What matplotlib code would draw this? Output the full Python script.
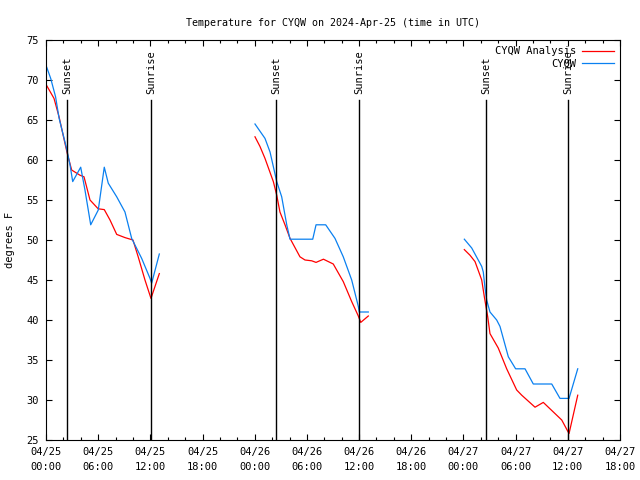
import numpy as np
import pandas as pd
import matplotlib
matplotlib.use("Agg")
import matplotlib.pyplot as plt
import matplotlib.dates as mdates
from matplotlib.ticker import MultipleLocator

START = pd.Timestamp("2024-04-25 00:00")

# hours after 2024-04-25 00:00 UTC; NaN separates the three nights
analysis_hours = [
    0.08, 0.92, 1.5, 2.26, 2.45, 2.95, 3.9, 4.37, 5.06, 6.0, 6.7, 7.36, 8.13,
    9.08, 10.0, 10.6, 11.38, 12.07, 13.03, np.nan,
    24.03, 24.6, 25.18, 26.14, 26.53, 26.9, 27.48, 28.06, 29.2, 29.78, 30.55,
    31.05, 31.9, 33.03, 34.18, 35.15, 35.91, 36.19, 37.06, np.nan,
    48.1, 48.75, 49.33, 50.1, 50.4, 50.79, 51.05, 52.0, 52.97, 54.12, 54.7,
    56.23, 57.18, 58.53, 59.3, 60.14, 61.14,
]
analysis_temp = [
    69.3, 67.7, 65.4, 61.7, 60.8, 58.75, 58.1, 57.9, 55.0, 53.9, 53.8, 52.5, 50.7,
    50.3, 50.0, 47.9, 45.0, 42.7, 45.8, np.nan,
    62.9, 61.7, 60.2, 57.3, 55.6, 53.5, 51.9, 50.2, 47.9, 47.5, 47.4,
    47.2, 47.6, 47.0, 44.8, 42.3, 40.5, 39.7, 40.5, np.nan,
    48.8, 48.1, 47.3, 45.0, 42.9, 40.4, 38.3, 36.5, 33.9, 31.25, 30.6,
    29.1, 29.7, 28.3, 27.5, 25.8, 30.6,
]

obs_hours = [
    0.08, 0.54, 1.1, 1.5, 2.26, 2.45, 2.76, 3.07, 3.99, 4.48, 5.14, 6.01, 6.7,
    7.16, 8.13, 9.08, 9.85, 11.0, 11.96, 12.15, 13.03, np.nan,
    24.03, 25.18, 25.76, 26.53, 27.1, 27.68, 28.06, 30.67, 31.05, 32.16, 33.23,
    34.18, 35.15, 35.91, 36.02, 37.06, np.nan,
    48.1, 48.95, 50.1, 50.28, 50.48, 50.67, 51.05, 51.82, 52.2, 53.16, 54.0,
    55.08, 56.03, 58.15, 59.1, 60.14, 61.14,
]
obs_temp = [
    71.6, 70.2, 67.9, 65.25, 61.9, 61.0, 59.4, 57.3, 59.1, 56.25, 51.9, 53.75, 59.1,
    57.1, 55.4, 53.5, 50.2, 47.7, 45.2, 44.6, 48.25, np.nan,
    64.5, 62.7, 61.0, 57.3, 55.4, 51.9, 50.1, 50.1, 51.9, 51.9, 50.2,
    47.9, 45.0, 41.7, 41.0, 41.0, np.nan,
    50.1, 49.0, 46.7, 46.0, 44.0, 42.5, 41.0, 40.0, 39.2, 35.4, 33.9,
    33.9, 32.0, 32.0, 30.2, 30.2, 33.9,
]

sunset_hours = [2.42, 26.45, 50.6]
sunrise_hours = [12.05, 36.0, 60.0]


def to_time(hours):
    return START + pd.to_timedelta(np.asarray(hours, dtype=float), unit="h")


plt.rcParams["font.family"] = "DejaVu Sans Mono"
plt.rcParams["font.size"] = 7.5

fig = plt.figure(figsize=(6.4, 4.8), dpi=100)
ax = fig.add_axes([46 / 640, 1 - 440 / 480, 574 / 640, 400 / 480])

ax.plot(to_time(analysis_hours), analysis_temp, color="#ff0000", lw=0.9,
        label="CYQW Analysis")
ax.plot(to_time(obs_hours), obs_temp, color="#0a80f0", lw=0.9, label="CYQW")

for label, hours in (("Sunset", sunset_hours), ("Sunrise", sunrise_hours)):
    for t in to_time(hours):
        ax.plot([t, t], [25, 67.5], color="black", lw=1.0)
        ax.text(t, 68.3, label, rotation=90, ha="center", va="bottom",
                fontsize=7.5)

ax.set_xlim(to_time([0])[0], to_time([66])[0])
ax.set_ylim(25, 75)
ax.yaxis.set_major_locator(MultipleLocator(5))
ax.xaxis.set_major_locator(mdates.HourLocator(byhour=[0, 6, 12, 18]))
ax.xaxis.set_minor_locator(mdates.HourLocator(byhour=range(0, 24, 2)))
ax.xaxis.set_major_formatter(mdates.DateFormatter("%m/%d\n%H:%M"))

ax.tick_params(which="both", direction="in", top=True, right=True,
               labelsize=7.5, width=0.8)
ax.tick_params(which="major", length=4.5, pad=5)
ax.tick_params(which="minor", length=2)
for lbl in ax.get_xticklabels():
    lbl.set_linespacing(1.6)
for s in ax.spines.values():
    s.set_linewidth(0.8)

ax.set_ylabel("degrees F", fontsize=7.5, labelpad=8)
ax.set_title("Temperature for CYQW on 2024-Apr-25 (time in UTC)",
             fontsize=7.2, pad=10)

ax.legend(loc="upper right", frameon=False, markerfirst=False,
          alignment="right", handlelength=3.0, handletextpad=0.6,
          labelspacing=0.25, borderaxespad=0.2, fontsize=7.5)

fig.savefig("out.png", dpi=100)
